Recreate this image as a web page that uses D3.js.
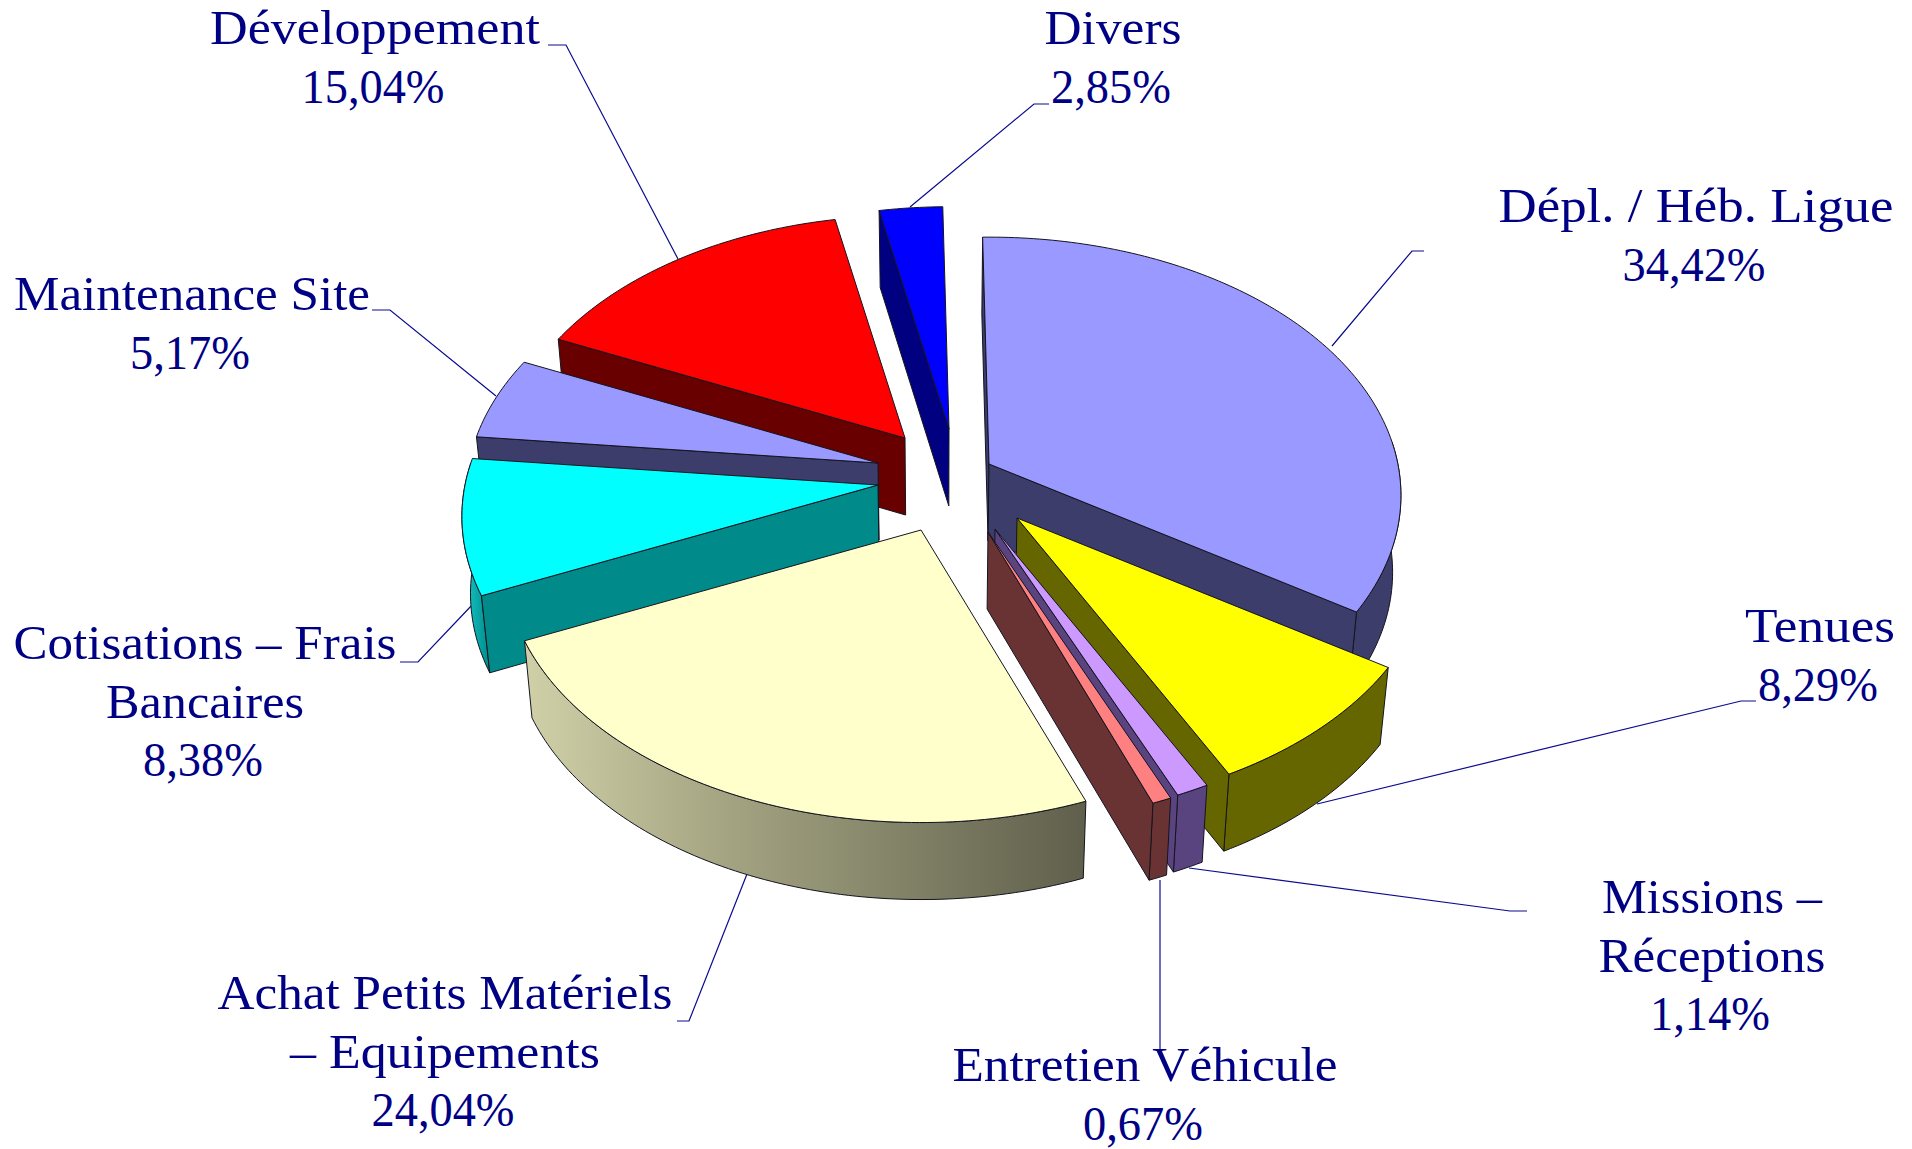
<!DOCTYPE html>
<html><head><meta charset="utf-8">
<script src="https://cdnjs.cloudflare.com/ajax/libs/d3/7.8.5/d3.min.js"></script>
<style>html,body{margin:0;background:#fff;overflow:hidden}svg{display:block}</style>
</head><body><svg id="c" width="1912" height="1149"></svg>
<script>
const categories = ["Dépl. / Héb. Ligue","Tenues","Missions – Réceptions","Entretien Véhicule","Achat Petits Matériels – Equipements","Cotisations – Frais Bancaires","Maintenance Site","Développement","Divers"];
const values = [34.42,8.29,1.14,0.67,24.04,8.38,5.17,15.04,2.85];
const topColors = ["#9999FF","#FFFF00","#CC99FF","#FF8080","#FFFFCC","#00FFFF","#9999FF","#FF0000","#0000FF"];
const sideColors = ["#3d3d6b","#666600","#5a4480","#693333","#66664f","#008a8a","#3d3d6b","#690000","#000080"];
const labelLines = [["Dépl. / Héb. Ligue"],["Tenues"],["Missions –","Réceptions"],["Entretien Véhicule"],["Achat Petits Matériels","– Equipements"],["Cotisations – Frais","Bancaires"],["Maintenance Site"],["Développement"],["Divers"]];
const pctLabels = ["34,42%","8,29%","1,14%","0,67%","24,04%","8,38%","5,17%","15,04%","2,85%"];

// layout, in pixels of the picture
const apexX = [989,1017,995,988,921,878,878,905,949];
const apexY = [464,518,529,532,530,485,463,438,429];
const radiusK = [0.99,1,1,1,1,1,0.99,0.97,0.97];
const labelX = [1696,1820,1712,1145,445,205,192,375,1113];
const labelY = [222,642,913,1081,1009,659,310,44,44];
const lineWidths = [[395],[150],[220,227],[385],[455,310],[383,198],[356],[330],[137]];
const pctWidth = 120;
const lineGap = 58.6;
const leaders = [
 [[1332,346],[1412,251],[1424,251]],
 [[1317,804],[1741,701],[1756,701]],
 [[1189,868],[1510,911],[1527,911]],
 [[1160,880],[1160,1049]],
 [[747,874],[689,1021],[677,1021]],
 [[473,604],[418,662],[400,662]],
 [[496,396],[390,310],[372,310]],
 [[678,259],[566,45],[548,45]],
 [[910,207],[1034,104],[1049,104]]
];
const RX=413, RY=257, PERSP=0.1215, DEPTH=77, VX=939, BOTTOM=0.982, STEP=Math.PI/180;

const svg=d3.select("#c"), defs=svg.append("defs");
const pie=d3.pie().sort(null).startAngle(-STEP).endAngle(2*Math.PI-STEP)(values);
const lineGen=d3.line();

function project(i,a){
  const u=Math.sin(a), v=-Math.cos(a), s=radiusK[i]/(1-PERSP*v);
  return [apexX[i]+RX*u*s, apexY[i]+RY*v*s];
}
const lower=p=>[VX+(p[0]-VX)*BOTTOM, p[1]+DEPTH];
function arcPts(i,a0,a1){
  const n=Math.max(2,Math.ceil((a1-a0)/STEP));
  return d3.range(n+1).map(k=>project(i,a0+(a1-a0)*k/n));
}
const closePoly=p=>lineGen(p)+"Z";
const edge="#14141f";

// leader lines sit behind the pie
svg.append("g").selectAll("path").data(leaders).join("path")
  .attr("d",d=>lineGen(d)).attr("fill","none").attr("stroke","#0a0a90").attr("stroke-width",1.2);

// gradients for lit outer walls
const grads={4:[["0%","#d0d0a8"],["35%","#a5a583"],["100%","#5f5f4c"]],5:[["0%","#18cfcf"],["100%","#008a8a"]]};
Object.entries(grads).forEach(([i,st])=>{
  const g=defs.append("linearGradient").attr("id","g"+i).attr("x1","0").attr("x2","1").attr("y1","0").attr("y2","0");
  st.forEach(s=>g.append("stop").attr("offset",s[0]).attr("stop-color",s[1]));
});

// painter's order, back to front
const order=[8,7,6,5,4,0,1,2,3];
order.forEach(i=>{
  const d=pie[i], g=svg.append("g");
  const a0=d.startAngle,a1=d.endAngle, apex=[apexX[i],apexY[i]];
  const c0=project(i,a0),c1=project(i,a1);
  const fA=85*STEP, fB=275*STEP;
  const wa0=Math.max(a0,fA), wa1=Math.min(a1,fB);
  if(wa1>wa0){
    const t=arcPts(i,wa0,wa1), b=t.map(lower).reverse();
    const fill=grads[i]?`url(#g${i})`:sideColors[i];
    g.append("path").attr("d",closePoly(t.concat(b))).attr("fill",fill).attr("stroke",edge).attr("stroke-width",1);
  }
  // radial walls: keep those turned towards the viewer
  [[apex,c0],[c1,apex]].forEach(([p,q])=>{
    const quad=[p,q,lower(q),lower(p)];
    if(d3.polygonArea(quad)>0) g.append("path").attr("d",closePoly(quad)).attr("fill",sideColors[i]).attr("stroke",edge).attr("stroke-width",1);
  });
  const face=[apex].concat(arcPts(i,a0,a1));
  g.append("path").attr("d",closePoly(face)).attr("fill",topColors[i]).attr("stroke",edge).attr("stroke-width",1);
});

// labels
const tg=svg.append("g").attr("font-family","'Liberation Serif',serif").attr("font-size",48).attr("fill","#000085").attr("text-anchor","middle");
categories.forEach((c,i)=>{
  labelLines[i].forEach((r,k)=>tg.append("text").attr("x",labelX[i]).attr("y",labelY[i]+k*lineGap)
    .attr("textLength",lineWidths[i][k]).attr("lengthAdjust","spacingAndGlyphs").text(r));
  tg.append("text").attr("x",labelX[i]-2).attr("y",labelY[i]+labelLines[i].length*lineGap)
    .attr("textLength",pctLabels[i].length===6?143:pctWidth).attr("lengthAdjust","spacingAndGlyphs").text(pctLabels[i]);
});
</script></body></html>
